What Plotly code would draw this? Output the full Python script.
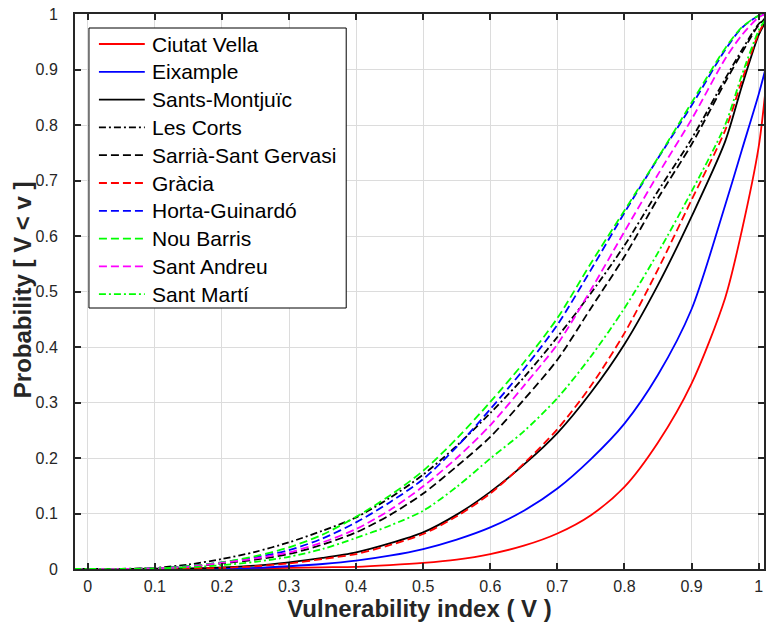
import plotly.graph_objects as go

# Vulnerability index sample points
v = [-0.02, 0.0, 0.05, 0.1, 0.15, 0.2, 0.25, 0.3, 0.35, 0.4, 0.45, 0.5, 0.55,
     0.6, 0.65, 0.7, 0.75, 0.8, 0.85, 0.9, 0.95, 0.975, 1.0, 1.01]

# Cumulative probability P[V < v] per district
ciutat_vella = [0, 0, 0, 0, 0, 0.0005, 0.001, 0.002, 0.003, 0.004, 0.007, 0.011, 0.017,
                0.027, 0.042, 0.064, 0.097, 0.148, 0.228, 0.334, 0.488, 0.610, 0.760, 0.860]
eixample = [0, 0, 0, 0, 0.0005, 0.001, 0.002, 0.005, 0.009, 0.015, 0.024, 0.036, 0.053,
            0.075, 0.105, 0.145, 0.198, 0.262, 0.350, 0.468, 0.655, 0.755, 0.855, 0.900]
sants_montjuic = [0, 0, 0, 0.0005, 0.001, 0.003, 0.006, 0.012, 0.020, 0.030, 0.046, 0.066, 0.098,
                  0.139, 0.188, 0.245, 0.318, 0.405, 0.512, 0.635, 0.770, 0.870, 0.962, 0.985]
les_corts = [0, 0, 0.0003, 0.002, 0.008, 0.018, 0.031, 0.048, 0.069, 0.093, 0.128, 0.170, 0.222,
             0.281, 0.345, 0.418, 0.497, 0.583, 0.681, 0.775, 0.883, 0.935, 0.982, 0.992]
sarria = [0, 0, 0, 0.001, 0.004, 0.010, 0.017, 0.027, 0.044, 0.066, 0.097, 0.136, 0.185,
          0.238, 0.305, 0.377, 0.470, 0.563, 0.668, 0.765, 0.877, 0.930, 0.980, 0.992]
gracia = [0, 0, 0, 0, 0.001, 0.002, 0.005, 0.010, 0.018, 0.027, 0.043, 0.063, 0.095,
          0.136, 0.190, 0.252, 0.330, 0.425, 0.540, 0.665, 0.790, 0.880, 0.965, 0.988]
horta = [0, 0, 0, 0.001, 0.005, 0.012, 0.021, 0.034, 0.055, 0.084, 0.120, 0.162, 0.220,
         0.288, 0.360, 0.440, 0.539, 0.642, 0.740, 0.835, 0.935, 0.975, 0.997, 1.0]
nou_barris = [0, 0, 0, 0.001, 0.005, 0.012, 0.023, 0.039, 0.062, 0.094, 0.132, 0.177, 0.235,
              0.301, 0.372, 0.452, 0.551, 0.646, 0.741, 0.840, 0.938, 0.976, 0.997, 1.0]
sant_andreu = [0, 0, 0, 0.001, 0.004, 0.011, 0.019, 0.030, 0.048, 0.072, 0.106, 0.149, 0.200,
               0.259, 0.330, 0.405, 0.503, 0.608, 0.711, 0.810, 0.919, 0.962, 0.994, 1.0]
sant_marti = [0, 0, 0, 0.001, 0.003, 0.007, 0.013, 0.022, 0.036, 0.056, 0.078, 0.105, 0.148,
              0.199, 0.248, 0.308, 0.383, 0.470, 0.570, 0.680, 0.800, 0.890, 0.970, 0.990]

names = ["Ciutat Vella", "Eixample", "Sants-Montjuïc", "Les Corts", "Sarrià-Sant Gervasi",
         "Gràcia", "Horta-Guinardó", "Nou Barris", "Sant Andreu", "Sant Martí"]
series = [ciutat_vella, eixample, sants_montjuic, les_corts, sarria,
          gracia, horta, nou_barris, sant_andreu, sant_marti]
colors = ["#ff0000", "#0000ff", "#000000", "#000000", "#000000",
          "#ff0000", "#0000ff", "#00ff00", "#ff00ff", "#00ff00"]

DASH = "8px,4px"
DASHDOT = "7px,3px,2px,3px"
dashes = ["solid", "solid", "solid", DASHDOT, DASH, DASH, DASH, DASH, DASH, DASHDOT]

W, H = 767, 632
ML, MR, MT, MB = 75, 1, 14, 63
plot_w, plot_h = W - ML - MR, H - MT - MB


def px_to_paper(px, py):
    """Pixel position in the figure -> paper coordinates."""
    return (px - ML) / plot_w, (H - MB - py) / plot_h


fig = go.Figure()
for name, y, c, d in zip(names, series, colors, dashes):
    fig.add_trace(go.Scatter(
        x=v, y=y, mode="lines", name=name, showlegend=False,
        line=dict(color=c, width=1.8, dash=d, shape="spline", smoothing=0.8),
    ))

axis_color = "#262626"
font_family = "Liberation Sans, Arial, sans-serif"
tick_font = dict(family="Liberation Sans Narrow, Arial Narrow, Liberation Sans, sans-serif",
                 size=16, color=axis_color)
ticks = [0, 0.1, 0.2, 0.3, 0.4, 0.5, 0.6, 0.7, 0.8, 0.9, 1]
tick_labels = ["0", "0.1", "0.2", "0.3", "0.4", "0.5", "0.6", "0.7", "0.8", "0.9", "1"]

# Legend box with line samples and labels
shapes, annotations = [], []
bx0, by0 = px_to_paper(89, 28)
bx1, by1 = px_to_paper(347, 308)
shapes.append(dict(type="rect", xref="paper", yref="paper", x0=bx0, y0=by1, x1=bx1, y1=by0,
                   line=dict(color="#000000", width=1), fillcolor="white", layer="above"))
for i, (name, c, d) in enumerate(zip(names, colors, dashes)):
    row_y = 44 + 27.8 * i
    lx0, ly = px_to_paper(99, row_y)
    lx1, _ = px_to_paper(145, row_y)
    tx, _ = px_to_paper(150, row_y)
    shapes.append(dict(type="line", xref="paper", yref="paper", x0=lx0, x1=lx1, y0=ly, y1=ly,
                       line=dict(color=c, width=1.8, dash=d), layer="above"))
    annotations.append(dict(text=name, xref="paper", yref="paper", x=tx, y=ly,
                            xanchor="left", yanchor="middle", showarrow=False,
                            font=dict(family=font_family, size=21, color="#000000")))

# Y-axis title
ytx, yty = px_to_paper(22, 290)
annotations.append(dict(text="<b>Probability [ V < v ]</b>", xref="paper", yref="paper",
                        x=ytx, y=yty, textangle=-90, xanchor="center", yanchor="middle",
                        showarrow=False,
                        font=dict(family=font_family, size=24, color=axis_color)))

fig.update_layout(
    width=W, height=H,
    margin=dict(l=ML, r=MR, t=MT, b=MB),
    paper_bgcolor="white", plot_bgcolor="white",
    showlegend=False,
    shapes=shapes, annotations=annotations,
)
fig.update_xaxes(
    range=[-0.019, 1.008],
    tickvals=ticks, ticktext=tick_labels,
    ticks="inside", ticklen=6, tickwidth=1.5, tickcolor=axis_color,
    showline=True, linecolor=axis_color, linewidth=2, mirror="ticks",
    showgrid=True, gridcolor="#dcdcdc", gridwidth=1.2, zeroline=False,
    tickfont=tick_font, ticklabelstandoff=2,
    title=dict(text="<b>Vulnerability index ( V )</b>", standoff=6,
               font=dict(family=font_family, size=24, color=axis_color)),
)
fig.update_yaxes(
    range=[0, 1],
    tickvals=ticks, ticktext=tick_labels,
    ticks="inside", ticklen=6, tickwidth=1.5, tickcolor=axis_color,
    showline=True, linecolor=axis_color, linewidth=2, mirror="ticks",
    showgrid=True, gridcolor="#dcdcdc", gridwidth=1.2, zeroline=False,
    tickfont=tick_font, ticklabelstandoff=12,
)

fig.write_html("out.html")
